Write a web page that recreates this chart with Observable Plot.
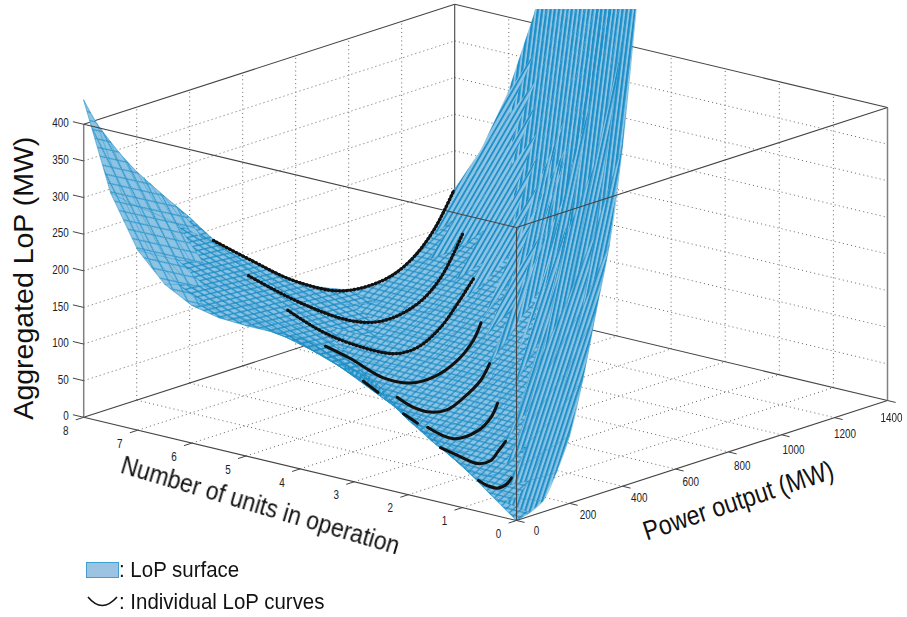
<!DOCTYPE html>
<html><head><meta charset="utf-8">
<script src="https://cdn.jsdelivr.net/npm/d3@7"></script>
<script src="https://cdn.jsdelivr.net/npm/@observablehq/plot@0.6"></script>
<style>
html,body{margin:0;padding:0;background:#fff;overflow:hidden}
#chart svg{filter:blur(0.35px)}
#legend{font-family:"Liberation Sans",sans-serif;font-size:22px;color:#111;height:67px;position:relative}
#legend .row{position:absolute;left:86px;display:flex;align-items:center;height:30px}
#legend span{display:inline-block;transform:scaleX(.93);transform-origin:left center;white-space:nowrap}
#legend svg{display:block}
</style></head><body>
<div id="chart"></div>
<div id="legend">
  <div class="row" style="top:5px"><svg width="33" height="17"><rect x="0.5" y="0.5" width="32" height="15" fill="#9cc3e2" stroke="#3f9fd0"/></svg><span>: LoP surface</span></div>
  <div class="row" style="top:37px"><svg width="33" height="17"><path d="M2 3 Q16 20 31 3" fill="none" stroke="#111" stroke-width="1.6"/></svg><span>: Individual LoP curves</span></div>
</div>
<script>
// Axis ticks
const zTicks = [0,50,100,150,200,250,300,350,400];
const unitTicks = [0,1,2,3,4,5,6,7,8];
const powerTicks = [0,200,400,600,800,1000,1200,1400];

// Surface: LoP (MW) read at these power levels for each number of units
const powerLevels = [0,50,100,150,200,250,300,350,400,500,600,700,800,900,1000,1100,1200,1300,1400,1500,1600,1700,1800];
const unitLevels = [0,0.5,1,1.5,2,2.5,3,3.5,4,4.5,5,5.5,6,6.5,7,7.5,8];
const lopU00 = [0,5,15,48,92,163,250,335,465,830];
const lopU05 = [28,12,10,28,60,105,165,240,340,585,800];
const lopU10 = [57,34,16,11,28,60,105,165,240,410,620];
const lopU15 = [84,58,38,22,11,13,40,85,150,310,500,680];
const lopU20 = [110,82,58,42,28,14,10,23,52,155,300,470,620];
const lopU25 = [137,108,82,62,46,31,16,11,20,80,185,330,490,660];
const lopU30 = [162,135,110,86,66,48,34,19,13,24,92,180,300,450,640];
const lopU35 = [173,148,125,104,85,67,51,38,24,14,50,115,210,330,480,650];
const lopU40 = [179,160,140,122,104,87,68,57,42,19,21,52,125,210,320,450,600];
const lopU45 = [178,165,150,135,120,106,92,78,62,33,20,35,78,145,235,340,460,590];
const lopU50 = [178,170,160,148,137,126,115,100,85,52,30,25,38,85,160,240,340,450,570];
const lopU55 = [180,174,166,158,150,141,132,120,105,72,47,31,30,55,110,175,260,355,460,580];
const lopU60 = [188,182,176,170,165,157,150,142,125,93,66,44,31,36,72,118,185,270,365,480];
const lopU65 = [208,202,195,188,182,174,166,158,145,114,85,61,43,38,54,86,140,215,290,385,490];
const lopU70 = [246,235,225,215,207,198,188,177,166,136,106,80,56,43,42,60,105,165,222,300,385,500];
const lopU75 = [315,300,285,272,258,244,228,212,196,158,128,100,74,57,49,56,84,128,185,245,320,435,600];
const lopU80 = [433,395,365,337,312,290,268,247,226,181,150,120,92,72,57,53,63,92,148,190,255,352,500];
const surfaceRows = [lopU00,lopU05,lopU10,lopU15,lopU20,lopU25,lopU30,lopU35,lopU40,lopU45,lopU50,lopU55,lopU60,lopU65,lopU70,lopU75,lopU80];

// Individual LoP curves: [power, LoP] per number of units (null = hidden behind the fold)
const curve8 = [[490,184],[630,141],[792,94],[970,59],[1132,55],[1234,70],[1321,101],[1396,146]];
const curve7 = [[418,162],[614,102],[801,56],[925,41],[1055,49],[1142,74],[1225,124]];
const curve6 = [[362,139],[484,97],[598,66],[761,33],[851,31],[938,48],[1002,73],[1062,100]];
const curve5 = [[300,115],[394,87],[519,46],[621,27],[707,25],[797,37],[857,57],[887,78]];
const curve4 = [[238,92],[294,70],[330,null],[366,55],[428,34],[492,20],[556,16],[617,25],[681,41],[715,60]];
const curve3 = [[186,71],[239,52],[258,null],[277,42],[375,15],[466,15],[515,27],[541,44]];
const curve2 = [[121,50],[186,32],[261,12],[310,10],[340,20],[367,30]];
const curve1 = [[61,30],[95,19],[132,11],[170,13],[185,19]];
const curveUnits = [8,7,6,5,4,3,2,1];
const curveLists = [curve8,curve7,curve6,curve5,curve4,curve3,curve2,curve1];

// Axis-box extents and the fixed view of the 3-D box
const U = 8, P = 1400, Z = 400;
const W = 907, H = 550, TOP = 9;
const view = {x0:516, y0:520, ux:-54.1, uy:-12.9, px:371/1400, py:-120/1400, zy:-293/400};
const sx = (u,p) => view.x0 + view.ux*u + view.px*p;
const sy = (u,p,z) => z == null ? NaN : view.y0 + view.uy*u + view.py*p + view.zy*z;
const seg = (a,b) => ({x1:sx(a[0],a[1]),y1:sy(...a),x2:sx(b[0],b[1]),y2:sy(...b)});
const link = (segs,o) => Plot.link(segs,{x1:"x1",y1:"y1",x2:"x2",y2:"y2",...o});

// Dotted grid on the three back planes
const grid = [];
for (const z of zTicks.slice(1,-1)) { grid.push(seg([U,0,z],[U,P,z])); grid.push(seg([U,P,z],[0,P,z])); }
for (const p of powerTicks.slice(1,-1)) { grid.push(seg([U,p,0],[U,p,Z])); grid.push(seg([U,p,0],[0,p,0])); }
for (const u of unitTicks.slice(1,-1)) { grid.push(seg([u,P,0],[u,P,Z])); grid.push(seg([u,0,0],[u,P,0])); }

const backBox = [seg([U,0,Z],[U,P,Z]),seg([U,P,Z],[0,P,Z]),seg([U,0,0],[U,P,0]),seg([U,P,0],[0,P,0]),seg([U,P,0],[U,P,Z])];
const sideBox = [seg([U,0,0],[U,0,Z]),seg([0,P,0],[0,P,Z])];
const frontBox = [seg([U,0,0],[0,0,0]),seg([0,0,0],[0,P,0]),seg([0,0,0],[0,0,Z]),seg([U,0,Z],[0,0,Z]),seg([0,0,Z],[0,P,Z])];
const ticks = [
  ...zTicks.map(z=>seg([U,0,z],[U+0.2,0,z])),
  ...unitTicks.map(u=>seg([u,0,0],[u,-30,0])),
  ...powerTicks.map(p=>seg([0,p,0],[-0.15,p,0]))
];

// Surface patches, each given the surface texture of its part of the picture
const patches = [], meshRows = [], meshCols = [];
const zoneOf = (cx,cy,z) => cx<190 ? "tip" : cx<350 ? "left" : (cx<516 && z<110) ? "bowl" : cx<516 && cy<300 ? "diag" : cy>280 ? "low" : cy>170 ? "mid" : "high";
const meshY = (u,p,z) => (z>150 && p>500) ? NaN : sy(u,p,z);
surfaceRows.forEach((row,i)=>row.forEach((z,j)=>{
  const u = unitLevels[i], p = powerLevels[j];
  meshRows.push({k:i,x:sx(u,p),y:meshY(u,p,z)});
  meshCols.push({k:j,i,x:sx(u,p),y:meshY(u,p,z)});
  if (i+1<surfaceRows.length && j+1<powerLevels.length) {
    const corners = [[i,j],[i,j+1],[i+1,j+1],[i+1,j]].filter(([a,b])=>surfaceRows[a][b]!==undefined)
      .map(([a,b])=>({id:i+"-"+j,x:sx(unitLevels[a],powerLevels[b]),y:sy(unitLevels[a],powerLevels[b],surfaceRows[a][b]),z:surfaceRows[a][b]}));
    const zone = zoneOf(d3.mean(corners,c=>c.x),d3.mean(corners,c=>c.y),d3.mean(corners,c=>c.z));
    corners.forEach(c=>patches.push({...c,zone}));
  }
}));
const patchMark = zone => Plot.line(patches.filter(d=>d.zone===zone),{x:"x",y:"y",z:"id",fill:`url(#tex-${zone})`,stroke:"none",curve:"linear-closed",clip:true});
const curvePts = curveUnits.flatMap((u,i)=>curveLists[i].map(([p,z])=>({u,x:sx(u,p),y:sy(u,p,z)})));

const plot = Plot.plot({
  width:W,height:H,marginTop:TOP,marginLeft:0,marginRight:0,marginBottom:0,
  x:{domain:[0,W],range:[0,W],axis:null},
  y:{domain:[TOP,H],range:[TOP,H],axis:null},
  style:{background:"#fff",overflow:"visible"},
  marks:[
    link(grid,{stroke:"#666",strokeWidth:1,strokeDasharray:"1 3.2"}),
    link(backBox,{stroke:"#444",strokeWidth:1.1}),
    link(sideBox,{stroke:"#808080",strokeWidth:1.5}),
    Plot.line(patches,{x:"x",y:"y",z:"id",fill:"#8dc3e3",stroke:"#8dc3e3",strokeWidth:0.4,curve:"linear-closed",clip:true}),
    ...["tip","left","bowl","diag","low","mid","high"].map(patchMark),
    Plot.line(meshRows,{x:"x",y:"y",z:"k",stroke:"#1f8fc6",strokeWidth:0.8,strokeOpacity:0.6,curve:"catmull-rom",clip:true}),
    Plot.line(meshCols,{x:"x",y:"y",z:"k",stroke:"#1f8fc6",strokeWidth:0.8,strokeOpacity:0.6,clip:true}),
    link(frontBox,{stroke:"#444",strokeWidth:1.1}),
    link(ticks,{stroke:"#444",strokeWidth:1}),
    Plot.line(curvePts.filter(d=>d.u>=6),{x:"x",y:"y",z:"u",stroke:"#111",strokeWidth:2.3,curve:"catmull-rom"}),
    Plot.line(curvePts.filter(d=>d.u<6),{x:"x",y:"y",z:"u",stroke:"#111",strokeWidth:3,curve:"catmull-rom"}),
    Plot.line(curvePts.filter(d=>d.u>=6),{x:"x",y:"y",z:"u",stroke:"#111",strokeWidth:3.4,strokeLinecap:"round",strokeDasharray:"0.1 3.6",curve:"catmull-rom"}),
    Plot.text(zTicks,{x:()=>sx(U,0),y:z=>sy(U,0,z),text:z=>String(z),dx:-15,dy:-1,fontFamily:"Liberation Sans",fontSize:13,fill:"#222",textAnchor:"end"}),
    Plot.text(unitTicks,{x:u=>sx(u,0),y:u=>sy(u,0,0),text:u=>String(u),dx:-18,dy:13.5,fontFamily:"Liberation Sans",fontSize:13,fill:"#222"}),
    Plot.text(powerTicks,{x:p=>sx(0,p)-p*0.0079-(p===P?5:0),y:p=>sy(0,p,0)+p*0.005,text:p=>String(p),dx:20,dy:10,fontFamily:"Liberation Sans",fontSize:13,fill:"#222"}),
    Plot.text(["Aggregated LoP (MW)"],{x:()=>sx(U,0),y:()=>sy(U,0,190),text:d=>d,rotate:-90,dx:-59,fontFamily:"Liberation Sans",fontSize:27,fill:"#111"}),
    Plot.text(["Number of units in operation"],{x:()=>sx(4.7,0),y:()=>sy(4.7,0,0),text:d=>d,rotate:16.5,dx:-2,dy:46,fontFamily:"Liberation Sans",fontSize:25,fill:"#111"}),
    Plot.text(["Power output (MW)"],{x:()=>sx(0,800),y:()=>sy(0,800,0),text:d=>d,rotate:-18.4,dx:10,dy:49,fontFamily:"Liberation Sans",fontSize:27,fill:"#111"})
  ]
});

// Surface textures (screen-space fill patterns) and condensed lettering
const stripes = (id,period,w,angle,color) => `<pattern id="tex-${id}" patternUnits="userSpaceOnUse" width="${period}" height="8" patternTransform="rotate(${angle})"><rect width="${w}" height="8" fill="${color}"/></pattern>`;
const cross = (id,tw,th,sw,angle) => `<pattern id="tex-${id}" patternUnits="userSpaceOnUse" width="${tw}" height="${th}" patternTransform="rotate(${angle})"><path d="M0 0L${tw} ${th}M0 ${th}L${tw} 0" stroke="#1c8dc6" stroke-width="${sw}" fill="none"/></pattern>`;
const defs = document.createElementNS("http://www.w3.org/2000/svg","defs");
defs.innerHTML = stripes("high",4.2,2.3,7,"#1c8fc9")+stripes("mid",4.2,2.1,12,"#1c8fc9")+stripes("low",4.4,2.1,18,"#1f90c9")+stripes("diag",4.6,1.9,30,"#1f90c9")+cross("bowl",11,6,1.1,-14)+cross("left",13,5.4,1.3,9)+cross("tip",19,9,1,38);
plot.insertBefore(defs,plot.firstChild);
const lettering = {"Aggregated LoP (MW)":283,"Number of units in operation":289,"Power output (MW)":199};
d3.select(plot).selectAll("text").each(function(){
  const s = this.textContent.trim();
  const len = lettering[s] || (/^\d+$/.test(s) ? s.length*5.5 : 0);
  if (len) { const t = this.querySelector("tspan")||this; t.setAttribute("textLength",len); t.setAttribute("lengthAdjust","spacingAndGlyphs"); }
});
document.getElementById("chart").appendChild(plot);
</script>
</body></html>
